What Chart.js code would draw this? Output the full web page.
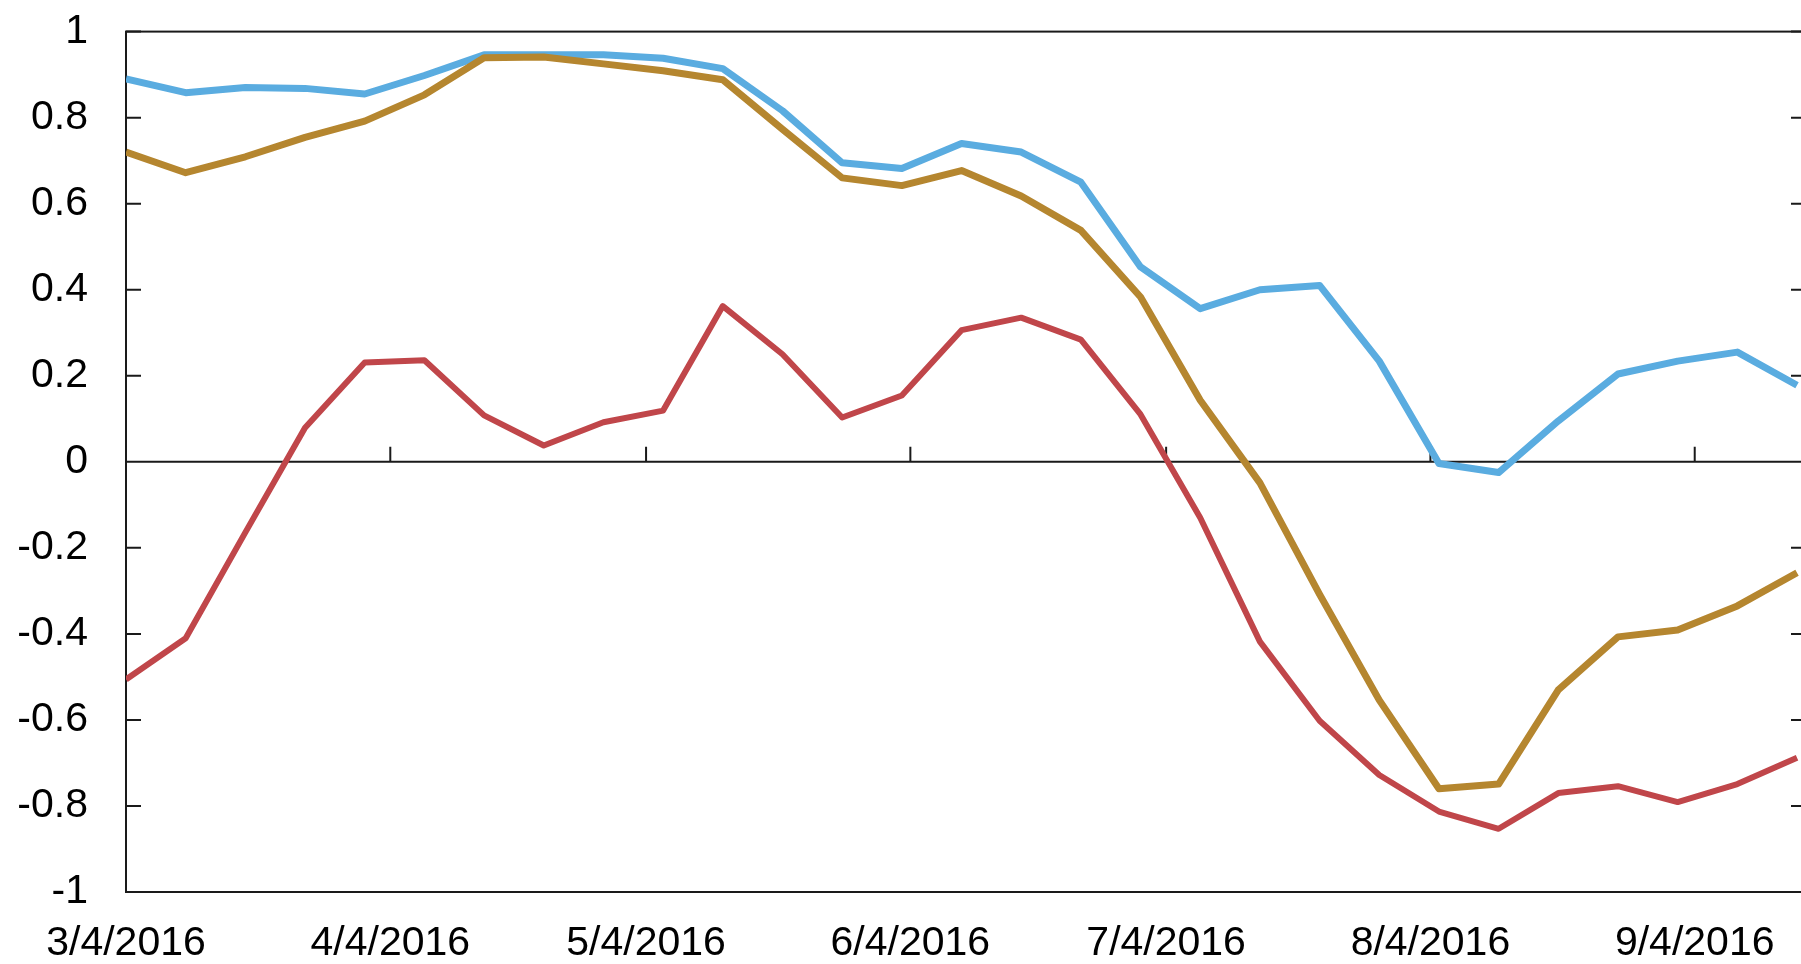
<!DOCTYPE html>
<html>
<head>
<meta charset="utf-8">
<style>
  html, body { margin: 0; padding: 0; background: #fff; overflow: hidden; }
  canvas { display: block; margin-top: -31px; }
</style>
<script src="https://cdn.jsdelivr.net/npm/chart.js@4.4.1/dist/chart.umd.min.js"></script>
</head>
<body>
<canvas id="myChart1" width="1810" height="995"></canvas>
<script>
// weekly observations
const weeks = [
  "2016-03-04", "2016-03-11", "2016-03-18", "2016-03-25", "2016-04-01",
  "2016-04-08", "2016-04-15", "2016-04-22", "2016-04-29", "2016-05-06",
  "2016-05-13", "2016-05-20", "2016-05-27", "2016-06-03", "2016-06-10",
  "2016-06-17", "2016-06-24", "2016-07-01", "2016-07-08", "2016-07-15",
  "2016-07-22", "2016-07-29", "2016-08-05", "2016-08-12", "2016-08-19",
  "2016-08-26", "2016-09-02", "2016-09-09", "2016-09-16",
];

const blueSeries = [
  0.89, 0.858, 0.87, 0.868, 0.855, 0.898, 0.946, 0.946, 0.946, 0.938,
  0.914, 0.816, 0.695, 0.682, 0.74, 0.72, 0.65, 0.453, 0.356, 0.40,
  0.41, 0.234, -0.004, -0.025, 0.095, 0.204, 0.234, 0.255, 0.178,
];

const goldSeries = [
  0.72, 0.672, 0.709, 0.754, 0.792, 0.853, 0.939, 0.941, 0.925, 0.909,
  0.888, 0.773, 0.66, 0.642, 0.677, 0.618, 0.538, 0.383, 0.143, -0.049,
  -0.308, -0.554, -0.76, -0.749, -0.53, -0.407, -0.391, -0.335, -0.258,
];

const redSeries = [
  -0.506, -0.41, -0.164, 0.079, 0.231, 0.236, 0.108, 0.038, 0.092, 0.119,
  0.362, 0.25, 0.103, 0.154, 0.306, 0.335, 0.284, 0.11, -0.13, -0.418,
  -0.602, -0.728, -0.813, -0.853, -0.77, -0.754, -0.791, -0.749, -0.688,
];

const tickDates = [
  "2016-03-04", "2016-04-04", "2016-05-04", "2016-06-04",
  "2016-07-04", "2016-08-04", "2016-09-04",
];
const tickLabels = [
  "3/4/2016", "4/4/2016", "5/4/2016", "6/4/2016",
  "7/4/2016", "8/4/2016", "9/4/2016",
];
const axisEnd = "2016-09-16T14:00:00Z";

const DAY = 86400000;
const start = Date.parse(weeks[0] + "T00:00:00Z");
const toDay = (s) => (Date.parse(s.length > 10 ? s : s + "T00:00:00Z") - start) / DAY;

const tickDays = tickDates.map(toDay);
const pts = (arr) => arr.map((v, i) => ({ x: toDay(weeks[i]), y: v }));

const FONT = "'Liberation Sans', Arial, sans-serif";

const frame = {
  id: "frame",
  beforeDatasetsDraw(chart) {
    const { ctx, chartArea: a, scales: { x, y } } = chart;
    const y0 = y.getPixelForValue(0);
    ctx.save();
    ctx.strokeStyle = "#1a1a1a";
    ctx.lineWidth = 2;
    ctx.strokeRect(a.left, a.top, a.right - a.left, a.bottom - a.top);
    ctx.beginPath();
    ctx.moveTo(a.left, y0);
    ctx.lineTo(a.right, y0);
    y.ticks.forEach((t) => {
      const py = y.getPixelForValue(t.value);
      ctx.moveTo(a.left, py);
      ctx.lineTo(a.left + 15, py);
      ctx.moveTo(a.right - 11, py);
      ctx.lineTo(a.right, py);
    });
    x.ticks.forEach((t) => {
      const px = x.getPixelForValue(t.value);
      ctx.moveTo(px, y0);
      ctx.lineTo(px, y0 - 15);
    });
    ctx.stroke();
    ctx.restore();
  },
};

const ctx = document.getElementById("myChart1").getContext("2d");

const data = {
  datasets: [
    { label: "red", data: pts(redSeries), borderColor: "#C0464A", borderWidth: 6, order: 1 },
    { label: "gold", data: pts(goldSeries), borderColor: "#B5862F", borderWidth: 7, order: 2 },
    { label: "blue", data: pts(blueSeries), borderColor: "#5AACE0", borderWidth: 7, order: 3 },
  ],
};

const config = {
  type: "line",
  data: data,
  options: {
    responsive: false,
    animation: false,
    layout: { padding: { top: 0, right: 8, left: 0, bottom: 0 } },
    elements: {
      point: { radius: 0 },
      line: { tension: 0, borderJoinStyle: "round", fill: false },
    },
    plugins: { legend: { display: false }, tooltip: { enabled: false } },
    scales: {
      x: {
        type: "linear",
        min: 0,
        max: toDay(axisEnd),
        afterBuildTicks: (s) => { s.ticks = tickDays.map((v) => ({ value: v })); },
        afterFit: (s) => { s.height = 72; },
        grid: { display: false, drawTicks: false },
        border: { display: false },
        ticks: {
          autoSkip: false,
          maxRotation: 0,
          padding: 27,
          color: "#000",
          font: { family: FONT, size: 41 },
          callback: (v) => tickLabels[tickDays.indexOf(v)],
        },
      },
      y: {
        min: -1,
        max: 1,
        afterFit: (s) => { s.width = 126; },
        grid: { display: false, drawTicks: false },
        border: { display: false },
        ticks: {
          stepSize: 0.2,
          padding: 38,
          color: "#000",
          font: { family: FONT, size: 41 },
          callback: (v) => String(Number(v.toFixed(1))),
        },
      },
    },
  },
  plugins: [frame],
};

const myChart1 = new Chart(ctx, config);
</script>
</body>
</html>
